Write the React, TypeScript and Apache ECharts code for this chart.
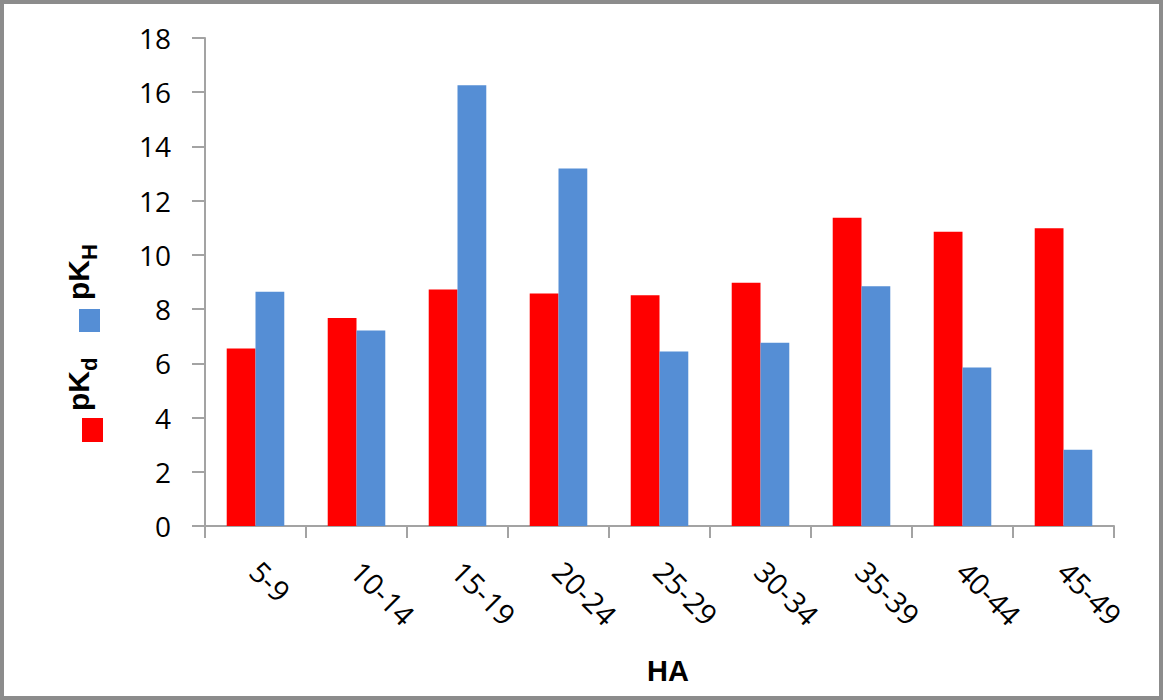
import React, { useEffect, useRef } from "react";
import * as echarts from "echarts";

// Age groups (HA) on the category axis
const categories = ["5-9", "10-14", "15-19", "20-24", "25-29", "30-34", "35-39", "40-44", "45-49"];

// Series values
const pKdValues = [6.55, 7.67, 8.72, 8.58, 8.51, 8.97, 11.37, 10.85, 10.98];
const pKHValues = [8.64, 7.21, 16.26, 13.19, 6.44, 6.76, 8.84, 5.85, 2.81];

// Value axis range
const yMin = 0;
const yMax = 18;
const yStep = 2;

const RED = "#ff0000";
const BLUE = "#558ed5";
const AXIS_GREY = "#a3a3a3";
const LABEL_FONT = "'Open Sans', 'Liberation Sans', sans-serif";
const BOLD_FONT = "'Liberation Sans', Arial, sans-serif";

export default function App() {
  const ref = useRef<HTMLDivElement>(null);

  useEffect(() => {
    document.body.style.margin = "0";
    if (!ref.current) return;
    const chart = echarts.init(ref.current, null, { renderer: "svg" });

    // Vertical legend entry: a swatch plus a rotated "pK" with a subscript
    const legendEntry = (
      color: string,
      sub: string,
      swatch: [number, number, number, number],
      startY: number
    ) => [
      {
        type: "rect",
        shape: { x: swatch[0], y: swatch[1], width: swatch[2], height: swatch[3] },
        style: { fill: color },
      },
      {
        type: "text",
        x: 78.5,
        y: startY,
        rotation: Math.PI / 2,
        style: {
          text: "pK",
          font: `bold 30px ${BOLD_FONT}`,
          fill: "#000",
          align: "left",
          verticalAlign: "middle",
        },
      },
      {
        type: "text",
        x: 89,
        y: startY - 40,
        rotation: Math.PI / 2,
        style: {
          text: sub,
          font: `bold 22px ${BOLD_FONT}`,
          fill: "#000",
          align: "left",
          verticalAlign: "middle",
        },
      },
    ];

    chart.setOption({
      animation: false,
      backgroundColor: "#ffffff",
      grid: { left: 205, top: 38, right: 49, bottom: 174, containLabel: false },
      xAxis: {
        type: "category",
        data: categories,
        axisLine: { show: true, lineStyle: { color: AXIS_GREY, width: 2 } },
        axisTick: { show: true, length: 12, lineStyle: { color: AXIS_GREY, width: 2 } },
        axisLabel: {
          rotate: -45,
          margin: 40,
          color: "#000",
          fontSize: 29,
          fontFamily: LABEL_FONT,
          interval: 0,
        },
        splitLine: { show: false },
      },
      yAxis: {
        type: "value",
        min: yMin,
        max: yMax,
        interval: yStep,
        axisLine: { show: true, lineStyle: { color: AXIS_GREY, width: 2 } },
        axisTick: { show: true, length: 13, lineStyle: { color: AXIS_GREY, width: 2 } },
        axisLabel: {
          margin: 34,
          color: "#000",
          fontSize: 28,
          fontFamily: LABEL_FONT,
        },
        splitLine: { show: false },
      },
      series: [
        {
          name: "pKd",
          type: "bar",
          data: pKdValues,
          itemStyle: { color: RED },
          barGap: "0%",
          barCategoryGap: "43%",
        },
        {
          name: "pKH",
          type: "bar",
          data: pKHValues,
          itemStyle: { color: BLUE },
          barGap: "0%",
          barCategoryGap: "43%",
        },
      ],
      graphic: [
        // outer frame
        {
          type: "rect",
          shape: { x: 2, y: 2, width: 1159, height: 696 },
          style: { fill: "none", stroke: "#8c8c8c", lineWidth: 4 },
          silent: true,
        },
        // x-axis title
        {
          type: "text",
          x: 668,
          y: 671,
          style: {
            text: "HA",
            font: `bold 29px ${BOLD_FONT}`,
            fill: "#000",
            align: "center",
            verticalAlign: "middle",
          },
        },
        ...legendEntry(BLUE, "H", [79, 309, 21, 23], 300),
        ...legendEntry(RED, "d", [82, 418, 21, 24], 411),
      ],
    });

    return () => chart.dispose();
  }, []);

  return (
    <div
      ref={ref}
      style={{ position: "absolute", left: 0, top: 0, width: 1163, height: 700 }}
    />
  );
}
